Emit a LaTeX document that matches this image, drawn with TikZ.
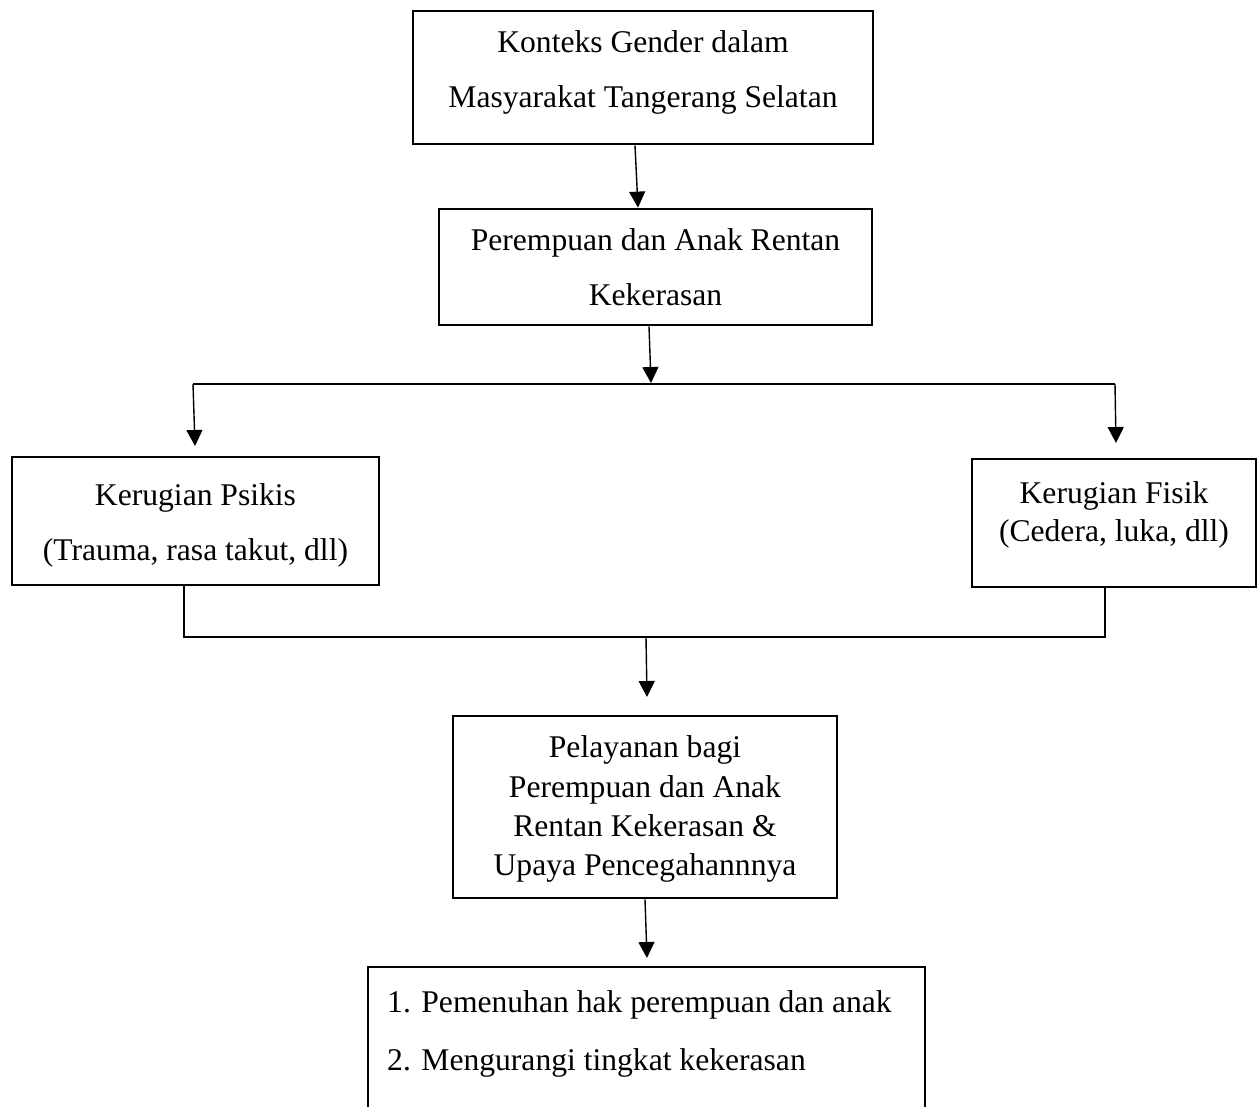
\documentclass[tikz,border=0pt]{standalone}
\usepackage{fontspec}
\setmainfont{Liberation Serif}
\usetikzlibrary{arrows.meta,calc}
\begin{document}
\begin{tikzpicture}[x=1pt,y=-1pt,
  box/.style={draw,line width=2.8pt,rectangle,inner sep=0pt},
  txt/.style={font=\fontsize{31.6}{38}\selectfont,anchor=base,inner sep=0pt},
  arr/.style={line width=1.4pt,-{Triangle[length=16pt,width=16pt]}},
  link/.style={line width=2.8pt}]
\clip (0,0) rectangle (1258,1106);
\fill[white] (0,0) rectangle (1258,1106);
% boxes
\node[box,minimum width=460pt,minimum height=133pt] (b1) at (643,77.5) {};
\node[box,minimum width=433pt,minimum height=116pt] (b2) at (655.5,267) {};
\node[box,minimum width=367pt,minimum height=128pt] (psi) at (195.5,521) {};
\node[box,minimum width=284pt,minimum height=128pt] (fis) at (1114,523) {};
\node[box,minimum width=384pt,minimum height=182pt] (pel) at (645,807) {};
\node[box,minimum width=557pt,minimum height=163pt] (bot) at (646.5,1048.5) {};
% texts
\node[txt] (t1a) at (643,52) {Konteks Gender dalam};
\node[txt] (t1b) at (643,107) {Masyarakat Tangerang Selatan};
\node[txt] (t2a) at (655.5,250) {Perempuan dan Anak Rentan};
\node[txt] (t2b) at (655.5,305) {Kekerasan};
\node[txt] (t3a) at (195.5,505) {Kerugian Psikis};
\node[txt] (t3b) at (195.5,560) {(Trauma, rasa takut, dll)};
\node[txt] (t4a) at (1114,503) {Kerugian Fisik};
\node[txt] (t4b) at (1114,541) {(Cedera, luka, dll)};
\node[txt] (t5a) at (645,757) {Pelayanan bagi};
\node[txt] (t5b) at (645,797) {Perempuan dan Anak};
\node[txt] (t5c) at (645,836) {Rentan Kekerasan \&};
\node[txt] (t5d) at (645,875) {Upaya Pencegahannnya};
\node[txt,anchor=base west] (t6a) at (387,1012) {1. Pemenuhan hak perempuan dan anak};
\node[txt,anchor=base west] (t6b) at (387,1070) {2. Mengurangi tingkat kekerasan};
% connector coordinates
\coordinate (h1l) at (193,384);
\coordinate (h1r) at (1115,384);
\coordinate (h1m) at (651,383);
\coordinate (psiTip) at (195,446);
\coordinate (fisTip) at (1116,443);
\coordinate (h2l) at (184,637);
\coordinate (h2r) at (1105,637);
\coordinate (h2m) at (646,637);
\coordinate (pelTip) at (647,697);
\coordinate (botTip) at (647,958);
% connectors
\draw[arr] ([xshift=-8pt]b1.south) -- ([xshift=-17.5pt]b2.north);
\draw[arr] ([xshift=-6.5pt]b2.south) -- (h1m);
\draw[link] (h1l) -- (h1r);
\draw[arr] (h1l) -- (psiTip);
\draw[arr] (h1r) -- (fisTip);
\draw[link] (h2l |- psi.south) -- (h2l) -- (h2r) -- (h2r |- fis.south);
\draw[arr] (h2m) -- (pelTip);
\draw[arr] (pel.south) -- (botTip);
\end{tikzpicture}
\end{document}
